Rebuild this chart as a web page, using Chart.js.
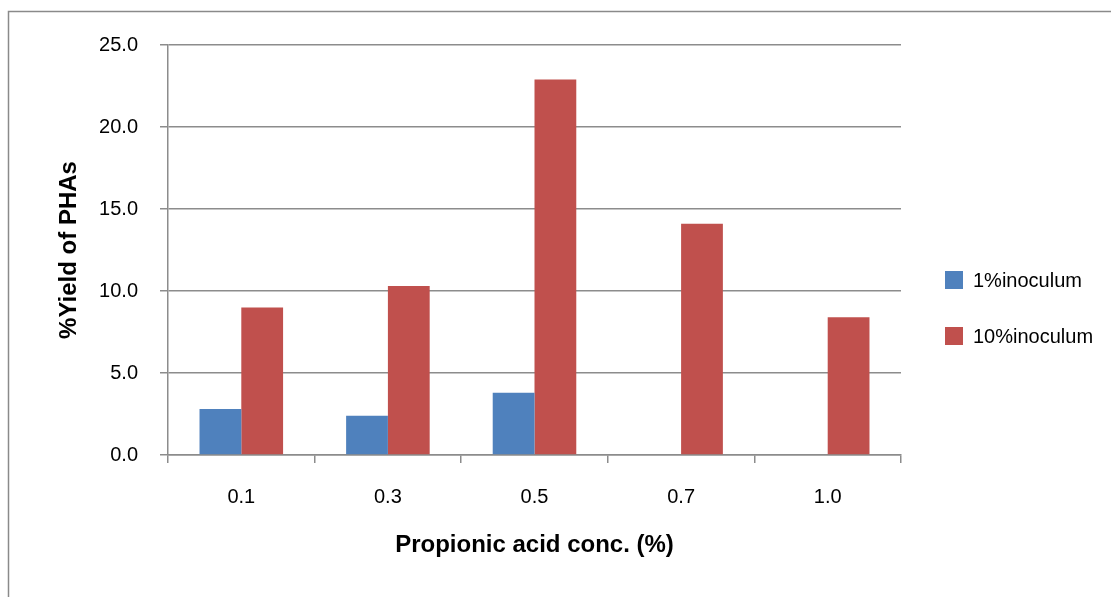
<!DOCTYPE html>
<html>
<head>
<meta charset="utf-8">
<script src="https://cdn.jsdelivr.net/npm/chart.js@4/dist/chart.umd.min.js"></script>
<style>
  html, body { margin: 0; padding: 0; background: #ffffff; overflow: hidden; }
  #wrap { position: relative; width: 1111px; height: 597px; }
</style>
</head>
<body>
<div id="wrap"><canvas id="c" width="1111" height="597"></canvas></div>
<script>
// Propionic acid concentrations (%)
const categories = ['0.1', '0.3', '0.5', '0.7', '1.0'];
// %Yield of PHAs per inoculum size
const inoculum1 = [2.8, 2.4, 3.8, 0, 0];
const inoculum10 = [9.0, 10.3, 22.9, 14.1, 8.4];
const seriesLabels = ['1%inoculum', '10%inoculum'];
const seriesColors = ['#4F81BD', '#C0504D'];

const FONT = "'Liberation Sans', Arial, Helvetica, sans-serif";
const GRID = '#8c8c8c';

// Outer frame of the chart area and the side legend
const framePlugin = {
  id: 'frame',
  beforeDraw(chart) {
    const ctx = chart.ctx;
    ctx.save();
    ctx.fillStyle = '#ffffff';
    ctx.fillRect(0, 0, chart.width, chart.height);
    ctx.strokeStyle = '#8a8a8a';
    ctx.lineWidth = 1.5;
    ctx.strokeRect(8.5, 11.5, 2000, 2000);
    ctx.restore();
  },
  afterDraw(chart) {
    const ctx = chart.ctx;
    ctx.save();
    ctx.font = '20px ' + FONT;
    ctx.textBaseline = 'middle';
    ctx.textAlign = 'left';
    chart.data.datasets.forEach((ds, i) => {
      const cy = 280 + i * 56;
      ctx.fillStyle = ds.backgroundColor;
      ctx.fillRect(945, cy - 9, 18, 18);
      ctx.fillStyle = '#000000';
      ctx.fillText(ds.label, 973, cy + 1);
    });
    ctx.restore();
  }
};

new Chart(document.getElementById('c'), {
  type: 'bar',
  data: {
    labels: categories,
    datasets: [
      { label: seriesLabels[0], data: inoculum1, backgroundColor: seriesColors[0] },
      { label: seriesLabels[1], data: inoculum10, backgroundColor: seriesColors[1] }
    ]
  },
  options: {
    responsive: false,
    animation: false,
    devicePixelRatio: 1,
    layout: { padding: { top: 45, right: 210, bottom: 0, left: 0 } },
    datasets: { bar: { categoryPercentage: 0.57, barPercentage: 1.0, borderWidth: 0 } },
    plugins: { legend: { display: false }, tooltip: { enabled: false } },
    scales: {
      x: {
        offset: true,
        afterFit(scale) { scale.height = 142; },
        grid: { offset: true, drawOnChartArea: false, drawTicks: true, tickLength: 8, color: GRID, lineWidth: 1.5 },
        border: { display: true, color: GRID, width: 1.5 },
        ticks: { color: '#000000', padding: 22, font: { family: FONT, size: 20 }, maxRotation: 0 },
        title: {
          display: true,
          text: 'Propionic acid conc. (%)',
          color: '#000000',
          font: { family: FONT, size: 24, weight: 'bold' },
          padding: { top: 0, bottom: 37 }
        }
      },
      y: {
        min: 0,
        max: 25,
        afterFit(scale) { scale.width = 168; },
        grid: { drawTicks: true, tickLength: 8, color: GRID, lineWidth: 1.5 },
        border: { display: true, color: GRID, width: 1.5 },
        ticks: {
          stepSize: 5,
          color: '#000000',
          padding: 22,
          font: { family: FONT, size: 20 },
          callback: (v) => Number(v).toFixed(1)
        },
        title: {
          display: true,
          text: '%Yield of PHAs',
          color: '#000000',
          font: { family: FONT, size: 24, weight: 'bold' },
          padding: { top: 55, bottom: 0 }
        }
      }
    }
  },
  plugins: [framePlugin]
});
</script>
</body>
</html>
